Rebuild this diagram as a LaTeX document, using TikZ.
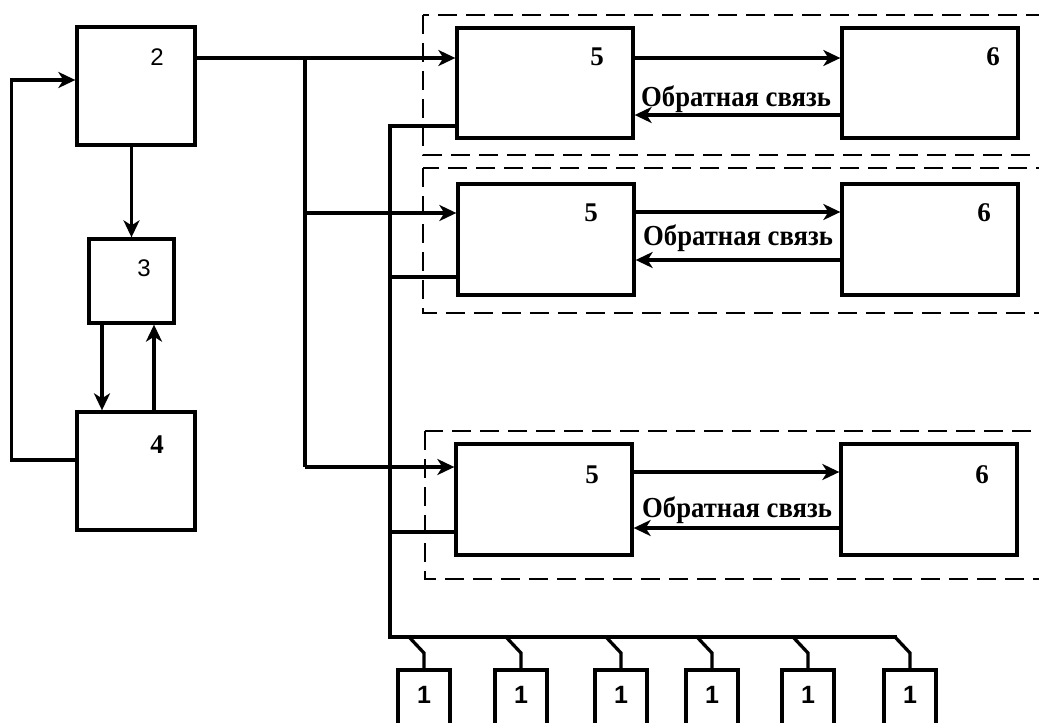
\documentclass[tikz,border=0pt]{standalone}
\usepackage{fontspec}
\setmainfont{Liberation Serif}
\newfontfamily\arialfont{Liberation Sans}
\newfontfamily\fbfont[FakeStretch=0.92]{Liberation Serif}
\usetikzlibrary{arrows.meta,positioning,calc}

\begin{document}
\begin{tikzpicture}[
    x=1pt, y=-1pt,
    block/.style={rectangle, draw, line width=3.3pt, inner sep=0pt},
    bigbox/.style={block, minimum width=118pt, minimum height=118pt},
    rowbox/.style={block, minimum width=176pt, minimum height=110pt},
    unitbox/.style={block, minimum width=52pt, minimum height=62pt},
    num/.style={font=\fontsize{27}{27}\selectfont\bfseries, inner sep=0pt},
    snum/.style={font=\arialfont\fontsize{24}{24}\selectfont, inner sep=0pt},
    unum/.style={font=\arialfont\fontsize{25}{25}\selectfont\bfseries, inner sep=0pt},
    fblabel/.style={font=\fbfont\fontsize{29}{29}\selectfont\bfseries, inner sep=0pt, anchor=base west},
    line/.style={line width=3.3pt},
    arrow/.style={line, -{Stealth[length=17pt,width=16pt,inset=5pt]}},
    group/.style={line width=2pt, dash pattern=on 19pt off 9pt},
]
\useasboundingbox (0,0) rectangle (1039,723);
\clip (0,0) rectangle (1039,723);

% Dashed groups
\draw[group] (423,15) rectangle (1070,155);
\draw[group] (423,168) rectangle (1070,313);
\draw[group] (425,431) rectangle (1070,579);

% Control part
\node[bigbox] (b2) at (136,86) {};
\node[block, minimum width=85pt, minimum height=84pt] (b3) at (131.5,281) {};
\node[bigbox] (b4) at (136,471) {};
\node[snum] (n2) at (157,57) {2};
\node[snum] (n3) at (144,268) {3};
\node[num] (n4) at (157,445) {4};

\coordinate (d34) at ([xshift=-29.5pt]b3.south);
\coordinate (u43) at ([xshift=22.5pt]b3.south);
\draw[arrow] (b2.south -| b3.north) -- (b3.north);
\draw[arrow] (d34) -- (d34 |- b4.north);
\draw[arrow] (u43 |- b4.north) -- (u43);
\draw[arrow] ([yshift=11pt]b4.west) -- ++(-64,0) |- ([yshift=6pt]b2.west);

% Rows 5 -- 6
\node[rowbox] (a1) at (545,83) {};
\node[rowbox] (c1) at (930,83) {};
\node[num] (n5a) at (597,57) {5};
\node[num] (n6a) at (993,57) {6};
\draw[arrow] ([yshift=25pt]a1.east) -- ([yshift=25pt]c1.west);
\draw[arrow] ([yshift=-32pt]c1.west) -- ([yshift=-32pt]a1.east);
\node[fblabel] (fb1) at (641,106) {Обратная связь};

\node[rowbox, minimum height=111pt] (a2) at (546,239.5) {};
\node[rowbox, minimum height=111pt] (c2) at (930,239.5) {};
\node[num] (n5b) at (591,213) {5};
\node[num] (n6b) at (984,213) {6};
\draw[arrow] ([yshift=27.5pt]a2.east) -- ([yshift=27.5pt]c2.west);
\draw[arrow] ([yshift=-20.5pt]c2.west) -- ([yshift=-20.5pt]a2.east);
\node[fblabel] (fb2) at (643,245) {Обратная связь};

\node[rowbox, minimum height=111pt] (a3) at (544,499.5) {};
\node[rowbox, minimum height=111pt] (c3) at (929,499.5) {};
\node[num] (n5c) at (592,475) {5};
\node[num] (n6c) at (982,475) {6};
\draw[arrow] ([yshift=27.5pt]a3.east) -- ([yshift=27.5pt]c3.west);
\draw[arrow] ([yshift=-28.5pt]c3.west) -- ([yshift=-28.5pt]a3.east);
\node[fblabel] (fb3) at (642,517) {Обратная связь};

% Bus from 2
\coordinate (split) at (305,58);
\coordinate (in2) at ([yshift=26.5pt]a2.west);
\coordinate (in3) at ([yshift=32.5pt]a3.west);
\draw[arrow] ([yshift=28pt]b2.east) -- ([yshift=25pt]a1.west);
\draw[line] (split) -- (split |- in3);
\draw[arrow] (split |- in2) -- (in2);
\draw[arrow] (split |- in3) -- (in3);

% Bus to units 1
\coordinate (bus) at (390,637);
\coordinate (busend) at (897,637);
\coordinate (out1) at ([yshift=-43pt]a1.west);
\coordinate (out2) at ([yshift=-37.5pt]a2.west);
\coordinate (out3) at ([yshift=-32.5pt]a3.west);
\draw[line] (out1) -| (bus) -- (busend);
\draw[line] (out2) -- (out2 -| bus);
\draw[line] (out3) -- (out3 -| bus);

\foreach \i/\x in {1/424,2/521,3/621,4/712,5/808,6/910}{
    \node[unitbox] (u\i) at (\x,701) {};
    \node[unum] (l\i) at ([yshift=-27pt]u\i.north) {1};
    \draw[line] (u\i.north) -- (u\i.north |- 0,653) -- ++(-15,-16);
}

\end{tikzpicture}
\end{document}
